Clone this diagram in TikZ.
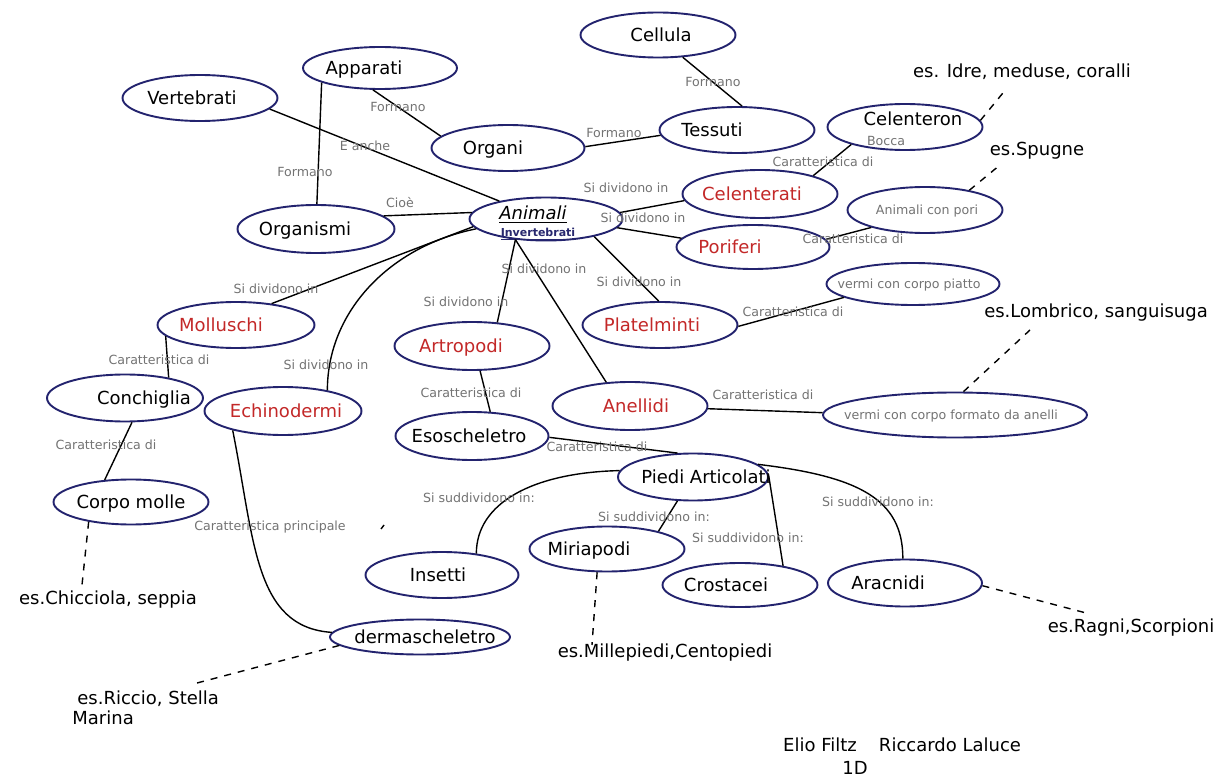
\documentclass[tikz,border=0pt]{standalone}
\usepackage{fontspec}
\setmainfont{DejaVu Sans}
\usetikzlibrary{shapes.geometric,calc}
\definecolor{edgecol}{RGB}{35,35,110}
\definecolor{redtxt}{RGB}{195,40,40}
\definecolor{lblcol}{RGB}{115,115,115}
\definecolor{navytxt}{RGB}{40,40,110}
\newcommand\tx[2]{\makebox[0pt]{\hspace*{#1pt}#2}}
\begin{document}
\begin{tikzpicture}[x=0.5pt,y=-0.5pt,
  con/.style={ellipse, draw=edgecol, line width=0.95pt, inner sep=0pt,
    font=\fontsize{9}{10}\selectfont, text height=6.6pt, text depth=0pt},
  sz/.style 2 args={minimum width=#1*0.5pt, minimum height=#2*0.5pt},
  redname/.style={text=redtxt},
  smalltxt/.style={font=\fontsize{6.3}{7}\selectfont, text=lblcol, text height=4.6pt},
  lab/.style={font=\fontsize{6.3}{7}\selectfont, text=lblcol, inner sep=0pt},
  ex/.style={font=\fontsize{9}{10}\selectfont, inner sep=0pt},
  link/.style={draw=black, line width=0.7pt},
  exlink/.style={draw=black, line width=0.7pt, dash pattern=on 3.5pt off 3.5pt}
]
\fill[white] (0,0) rectangle (1228,781);
\useasboundingbox (0,0) rectangle (1228,781);

% concepts
\node[con, sz={155}{45}] (cellula) at (658,35) {\tx{3}{Cellula}};
\node[con, sz={154}{42}] (apparati) at (380,68) {\tx{-16}{Apparati}};
\node[con, sz={155}{46}] (vertebrati) at (200,98) {\tx{-8}{Vertebrati}};
\node[con, sz={153}{46}] (organi) at (508,148) {\tx{-15}{Organi}};
\node[con, sz={155}{46}] (tessuti) at (737,130) {\tx{-25}{Tessuti}};
\node[con, sz={155}{46}] (celenteron) at (905,127) {\tx{8}{\raisebox{4pt}{Celenteron}}};
\node[con, redname, sz={155}{48}] (celenterati) at (760,194) {\tx{-8}{Celenterati}};
\node[con, smalltxt, sz={155}{46}] (pori) at (925,210) {\tx{2}{Animali con pori}};
\node[con, sz={157}{48}] (organismi) at (316,229) {\tx{-11}{Organismi}};
\node[con, sz={153}{43}] (animali) at (546,219) {\tx{-13}{\raisebox{3pt}{\underline{\textit{Animali}}}}};
\node[con, redname, sz={153}{44}] (poriferi) at (753,247) {\tx{-23}{Poriferi}};
\node[con, smalltxt, sz={173}{42}] (piatto) at (913,284) {\tx{-4}{vermi con corpo piatto}};
\node[con, redname, sz={157}{46}] (molluschi) at (236,325) {\tx{-15}{Molluschi}};
\node[con, redname, sz={155}{46}] (platelminti) at (660,325) {\tx{-8}{Platelminti}};
\node[con, redname, sz={155}{48}] (artropodi) at (472,346) {\tx{-11}{Artropodi}};
\node[con, sz={156}{47}] (conchiglia) at (125,398) {\tx{19}{Conchiglia}};
\node[con, redname, sz={157}{48}] (echinodermi) at (283,411) {\tx{3}{Echinodermi}};
\node[con, redname, sz={155}{48}] (anellidi) at (630,406) {\tx{6}{Anellidi}};
\node[con, smalltxt, sz={264}{45}] (anelli) at (955,415) {\tx{-4}{vermi con corpo formato da anelli}};
\node[con, sz={153}{48}] (esoscheletro) at (472,436) {\tx{-3}{Esoscheletro}};
\node[con, sz={150}{47}] (piedi) at (693,477) {\tx{13}{Piedi Articolati}};
\node[con, sz={155}{45}] (corpomolle) at (131,502) {\tx{0}{Corpo molle}};
\node[con, sz={155}{45}] (miriapodi) at (607,549) {\tx{-18}{Miriapodi}};
\node[con, sz={153}{46}] (insetti) at (442,575) {\tx{-4}{Insetti}};
\node[con, sz={155}{44}] (crostacei) at (740,585) {\tx{-14}{Crostacei}};
\node[con, sz={154}{47}] (aracnidi) at (905,583) {\tx{-17}{Aracnidi}};
\node[con, sz={180}{35}] (derma) at (420,637) {\tx{5}{dermascheletro}};

\node[font=\fontsize{5.5}{6}\selectfont\bfseries, text=navytxt, inner sep=0pt] (invert) at (538,234) {\underline{Invertebrati}};

% connectors
\draw[link] (apparati.194) -- (organismi.88);
\draw[link] (apparati.252) -- (organi.170);
\draw[link] (vertebrati.351) -- (animali.159);
\draw[link] (organismi.11) -- (animali.175);
\draw[link] (animali.186) -- (molluschi.31);
\draw[link] (animali.188) .. controls ($(animali.188)+(-85,17)$) and ($(echinodermi.25)+(0,-80)$) .. (echinodermi.25);
\draw[link] (echinodermi.201) .. controls ($(echinodermi.201)+(22,110)$) and ($(derma.177)+(-78,-5)$) .. (derma.177);
\draw[link] (molluschi.189) -- (conchiglia.25);
\draw[link] (conchiglia.286) -- (corpomolle.140);
\draw[link] (animali.214) -- (artropodi.43);
\draw[link] (animali.214) -- (anellidi.135);
\draw[link] (animali.340) -- (platelminti.93);
\draw[link] (animali.5) -- (celenterati.185);
\draw[link] (animali.353) -- (poriferi.173);
\draw[link] (organi.1) -- (tessuti.184);
\draw[link] (cellula.318) -- (tessuti.78);
\draw[link] (celenterati.19) -- (celenteron.198);
\draw[link] (poriferi.6) -- (pori.198);
\draw[link] (platelminti.359) -- (piatto.191);
\draw[link] (artropodi.288) -- (esoscheletro.53);
\draw[link] (anellidi.358) -- (anelli.179);
\draw[link] (esoscheletro.359) -- (piedi.123);
\draw[link] (piedi.175) .. controls ($(piedi.175)+(-88,2)$) and ($(insetti.32)+(0,-50)$) .. (insetti.32);
\draw[link] (piedi.237) -- (miriapodi.19);
\draw[link] (piedi.2) -- (crostacei.24);
\draw[link] (piedi.11) .. controls ($(piedi.11)+(100,12)$) and ($(aracnidi.95)+(0,-60)$) .. (aracnidi.95);
\draw[line width=0.7pt] (381,529) -- (384,525);

% dashed links to examples
\coordinate (e1) at (1007,88);
\coordinate (e2) at (1000,165);
\coordinate (e3) at (1030,330);
\coordinate (e4) at (82,585);
\coordinate (e5) at (592,645);
\coordinate (e6) at (1090,614);
\coordinate (e7) at (197,683);
\draw[exlink] (celenteron.5) -- (e1);
\draw[exlink] (pori.24) -- (e2);
\draw[exlink] (anelli.70) -- (e3);
\draw[exlink] (corpomolle.205) -- (e4);
\draw[exlink] (miriapodi.247) -- (e5);
\draw[exlink] (aracnidi.358) -- (e6);
\draw[exlink] (derma.186) -- (e7);

% link labels
\node[lab] (l1) at (398,107) {Formano};
\node[lab] (l2) at (305,172) {Formano};
\node[lab] (l3) at (365,145) {È anche};
\node[lab] (l4) at (400,203) {Cioè};
\node[lab] (l5) at (713,82) {Formano};
\node[lab] (l6) at (614,133) {Formano};
\node[lab] (l7) at (626,188) {Si dividono in};
\node[lab] (l8) at (643,218) {Si dividono in};
\node[lab] (l9) at (823,162) {Caratteristica di};
\node[lab] (l10) at (886,141) {Bocca};
\node[lab] (l11) at (853,239) {Caratteristica di};
\node[lab] (l12) at (276,289) {Si dividono in};
\node[lab] (l13) at (544,269) {Si dividono in};
\node[lab] (l14) at (466,302) {Si dividono in};
\node[lab] (l15) at (639,282) {Si dividono in};
\node[lab] (l16) at (793,312) {Caratteristica di};
\node[lab] (l17) at (159,360) {Caratteristica di};
\node[lab] (l18) at (326,365) {Si dividono in};
\node[lab] (l19) at (471,393) {Caratteristica di};
\node[lab] (l20) at (763,395) {Caratteristica di};
\node[lab] (l21) at (106,445) {Caratteristica di};
\node[lab] (l22) at (597,447) {Caratteristica di};
\node[lab] (l23) at (479,498) {Si suddividono in:};
\node[lab] (l24) at (654,517) {Si suddividono in:};
\node[lab] (l25) at (748,538) {Si suddividono in:};
\node[lab] (l26) at (878,502) {Si suddividono in:};
\node[lab] (l27) at (270,527) {Caratteristica principale};

% examples and names
\node[ex] (idre) at (1022,72) {es. Idre, meduse, coralli};
\node[ex] (spugne) at (1037,151) {es.Spugne};
\node[ex] (lombrico) at (1096,313) {es.Lombrico, sanguisuga};
\node[ex] (chicciola) at (108,600) {es.Chicciola, seppia};
\node[ex] (millepiedi) at (665,653) {es.Millepiedi,Centopiedi};
\node[ex] (ragni) at (1131,628) {es.Ragni,Scorpioni};
\node[ex, align=left, anchor=north west] (riccio) at (72,690) {\hspace*{2.5pt}es.Riccio, Stella\\Marina};
\node[ex] (elio) at (820,745) {Elio Filtz};
\node[ex] (riccardo) at (950,745) {Riccardo Laluce};
\node[ex] (classe) at (855,768) {1D};
\end{tikzpicture}
\end{document}
